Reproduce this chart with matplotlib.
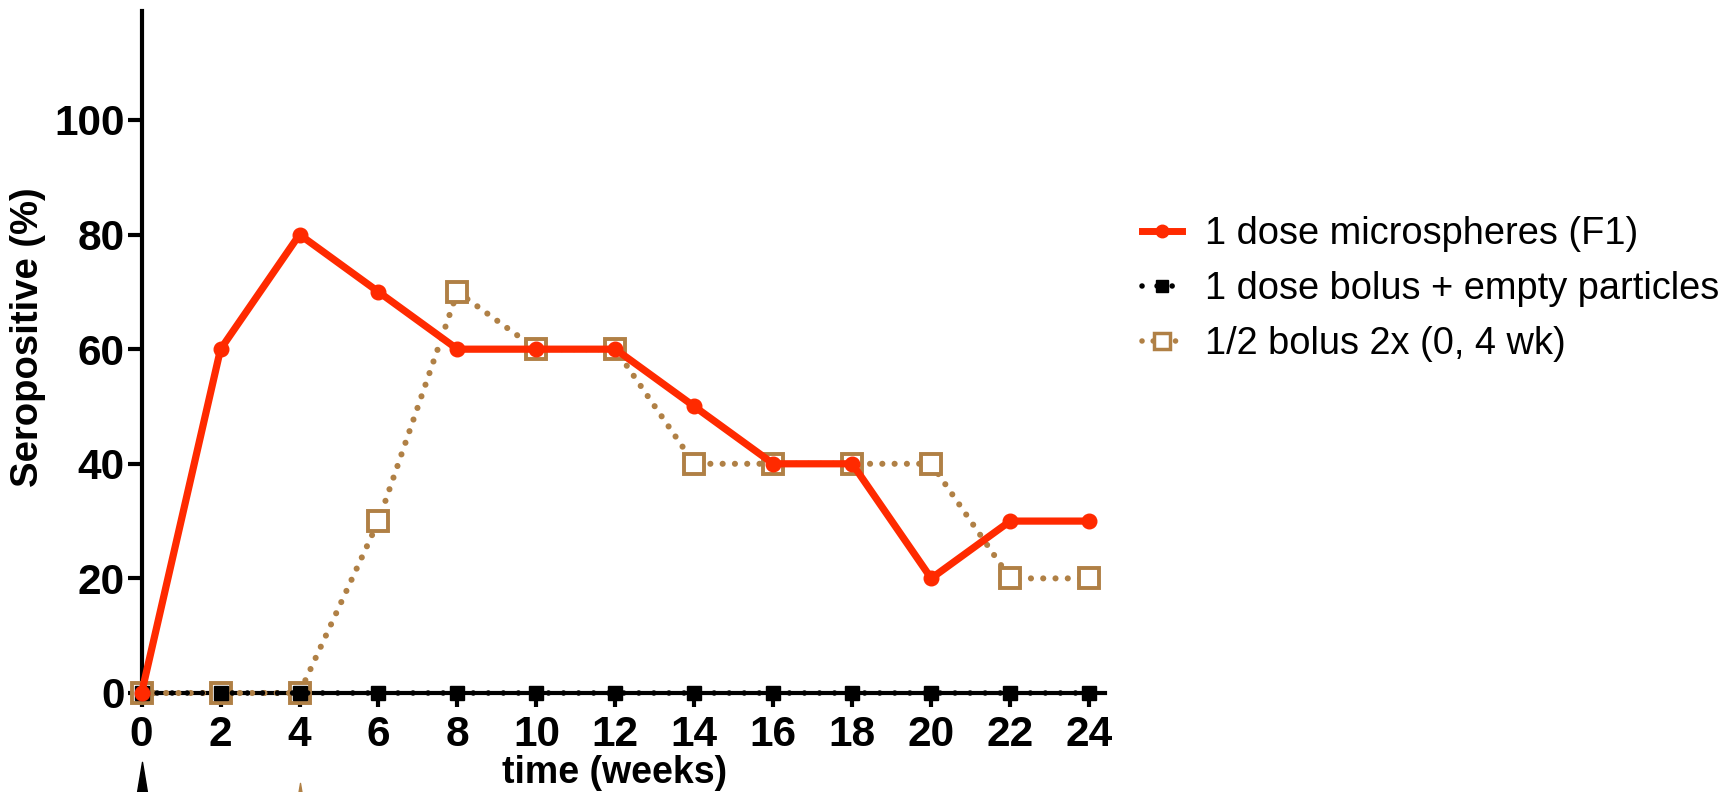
import matplotlib
matplotlib.use("Agg")
import matplotlib.pyplot as plt
from matplotlib.path import Path
from matplotlib.lines import Line2D

weeks = [0, 2, 4, 6, 8, 10, 12, 14, 16, 18, 20, 22, 24]
microspheres = [0, 60, 80, 70, 60, 60, 60, 50, 40, 40, 20, 30, 30]
bolus_empty = [0, 0, 0, 0, 0, 0, 0, 0, 0, 0, 0, 0, 0]
half_bolus_2x = [0, 0, 0, 30, 70, 60, 60, 40, 40, 40, 40, 20, 20]
labels = ["1 dose microspheres (F1)", "1 dose bolus + empty particles", "1/2 bolus 2x (0, 4 wk)"]
yticks = [0, 20, 40, 60, 80, 100]
dose_weeks_single = [0]
dose_weeks_half = [4]

RED = "#FF2A00"
BROWN = "#B08045"

plt.rcParams['font.family'] = ['Liberation Sans', 'DejaVu Sans']

fig = plt.figure(figsize=(17.33, 7.92), dpi=100)
ax = fig.add_axes([0.0817, 0.125, 0.5559, 0.861])

ax.plot(weeks, half_bolus_2x, color=BROWN, lw=4.4, linestyle=(0, (0.01, 2.0)),
        dash_capstyle='round', marker='s', ms=15, mfc='white', mec=BROWN, mew=2.8,
        clip_on=False, zorder=3, label=labels[2])
ax.plot(weeks, bolus_empty, color='black', lw=4.0, linestyle=(0, (0.01, 2.7)),
        dash_capstyle='round', marker='s', ms=10, mfc='black', mec='black',
        clip_on=False, zorder=4, label=labels[1])
ax.plot(weeks, microspheres, color=RED, lw=5.2, marker='o', ms=10.5,
        clip_on=False, zorder=5, label=labels[0])

ax.set_xlim(0, 24.4)
ax.set_ylim(0, 119)
ax.set_xticks(weeks)
ax.set_yticks(yticks)
for s in ['top', 'right']:
    ax.spines[s].set_visible(False)
for s in ['left', 'bottom']:
    ax.spines[s].set_linewidth(3)
ax.tick_params(axis='both', direction='out', length=10, width=3, labelsize=30.5)
ax.tick_params(axis='y', pad=2)
ax.tick_params(axis='x', pad=6)
for t in ax.get_xticklabels() + ax.get_yticklabels():
    t.set_fontweight('bold')

fig.text(0.0162, 1 - 337 / 792, "Seropositive (%)", rotation=90, fontsize=27.5,
         fontweight='bold', ha='center', va='center')
fig.text(615 / 1733, 1 - 773 / 792, "time (weeks)", fontsize=27,
         fontweight='bold', ha='center', va='center')

tri = Path([(-0.33, -1), (0.33, -1), (0, 1), (-0.33, -1)],
           [Path.MOVETO, Path.LINETO, Path.LINETO, Path.CLOSEPOLY])
ax.plot(dose_weeks_single, [-15.5] * len(dose_weeks_single), linestyle='none',
        marker=tri, ms=29, color='black', clip_on=False)
ax.plot(dose_weeks_half, [-17.6] * len(dose_weeks_half), linestyle='none',
        marker=tri, ms=16, color=BROWN, clip_on=False)

h = [Line2D([], [], color=RED, lw=5, marker='o', ms=9),
     Line2D([], [], color='black', lw=4, linestyle=(0, (0.01, 2.7)), dash_capstyle='round',
            marker='s', ms=9),
     Line2D([], [], color=BROWN, lw=4, linestyle=(0, (0.01, 2.0)), dash_capstyle='round',
            marker='s', ms=12, mfc='white', mec=BROWN, mew=2.5)]
fig.legend(h, labels, loc='center left', bbox_to_anchor=(1142 / 1733, 1 - 289 / 792),
           frameon=False, fontsize=27.4, handlelength=1.05, handletextpad=0.6,
           labelspacing=0.5, borderpad=0, borderaxespad=0)

fig.savefig("out.png", dpi=100)
